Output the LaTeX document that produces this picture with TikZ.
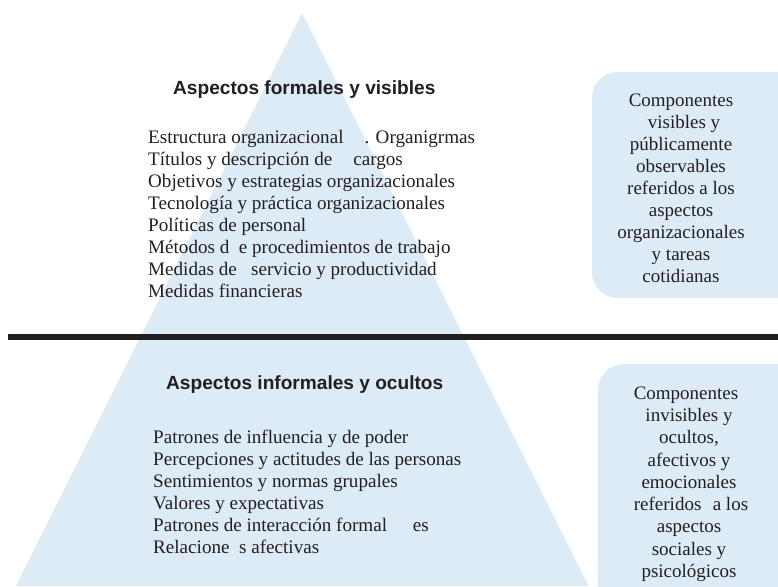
\documentclass[tikz,border=0pt]{standalone}
\usepackage{fontspec}
\setmainfont{Liberation Serif}
\setsansfont{Liberation Sans}
\definecolor{pyrblue}{HTML}{DDEBF7}
\definecolor{ink}{HTML}{231F20}
\begin{document}
\begin{tikzpicture}[x=1pt,y=-1pt,
  pyr/.style={fill=pyrblue},
  head/.style={anchor=base west,inner sep=0pt,text=ink,font=\sffamily\bfseries\fontsize{19.1}{22}\selectfont},
  item/.style={anchor=base west,inner sep=0pt,text=ink,font=\fontsize{19.1}{22}\selectfont},
  side/.style={anchor=base,inner sep=0pt,text=ink,font=\fontsize{19}{22}\selectfont}]
\useasboundingbox (0,0) rectangle (778,586);
% pyramid
\fill[pyr] (302,13) -- (16,586) -- (588.5,586) -- cycle;
% side boxes
\begin{scope}
\clip (0,0) rectangle (778,586);
\fill[pyr,rounded corners=26pt] (592,72) rectangle (820,298);
\fill[pyr,rounded corners=26pt] (598,364) rectangle (820,640);
\end{scope}
% divider
\draw[ink,line width=6pt] (8,337) -- (778,337);
% top section
\node[head] (h1) at (173,94) {Aspectos formales y visibles};
\node[item] (a1) at (148,143.5) {Estructura organizacional\hspace{1.1em}. Organigrmas};
\node[item] (a2) at (148,165.5) {Títulos y descripción de\hspace{1.1em}cargos};
\node[item] (a3) at (148,187.5) {Objetivos y estrategias organizacionales};
\node[item] (a4) at (148,209.5) {Tecnología y práctica organizacionales};
\node[item] (a5) at (148,231.5) {Políticas de personal};
\node[item] (a6) at (148,253.5) {Métodos d\hspace{0.5em}e procedimientos de trabajo};
\node[item] (a7) at (148,275.5) {Medidas de\hspace{0.75em}servicio y productividad};
\node[item] (a8) at (148,297.5) {Medidas financieras};
% bottom section
\node[head] (h2) at (166,389) {Aspectos informales y ocultos};
\node[item] (b1) at (153,443) {Patrones de influencia y de poder};
\node[item] (b2) at (153,465) {Percepciones y actitudes de las personas};
\node[item] (b3) at (153,487) {Sentimientos y normas grupales};
\node[item] (b4) at (153,509) {Valores y expectativas};
\node[item] (b5) at (153,531) {Patrones de interacción formal\hspace{1.35em}es};
\node[item] (b6) at (153,553) {Relacione\hspace{0.5em}s afectivas};
% right top box text
\node[side] (r1) at (681,106) {Componentes};
\node[side] (r2) at (684,128) {visibles y};
\node[side] (r3) at (681,150) {públicamente};
\node[side] (r4) at (681,172) {observables};
\node[side] (r5) at (681,194) {referidos a los};
\node[side] (r6) at (681,216) {aspectos};
\node[side] (r7) at (681,238) {organizacionales};
\node[side] (r8) at (681,260) {y tareas};
\node[side] (r9) at (681,282) {cotidianas};
% right bottom box text
\node[side] (s1) at (686,399) {Componentes};
\node[side] (s2) at (689,421) {invisibles y};
\node[side] (s3) at (689,443.5) {ocultos,};
\node[side] (s4) at (689,466) {afectivos y};
\node[side] (s5) at (689,488) {emocionales};
\node[side] (s6) at (691,510.5) {referidos\hspace{0.6em}a los};
\node[side] (s7) at (689,532.5) {aspectos};
\node[side] (s8) at (689,555) {sociales y};
\node[side] (s9) at (689,577) {psicológicos};
\end{tikzpicture}
\end{document}
